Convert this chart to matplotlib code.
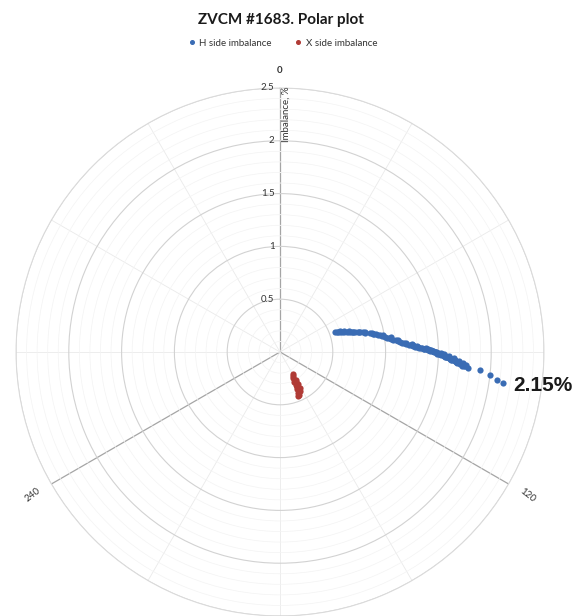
"""ZVCM #1683 polar plot of side imbalance."""

import numpy as np
import matplotlib
matplotlib.use('Agg')
import matplotlib.pyplot as plt
from matplotlib.lines import Line2D

# H side imbalance: angle (deg, clockwise from top) and magnitude (%)
h_theta = [69.7, 70.2, 70.5, 71.2, 71.8, 72.4, 73.0, 73.5, 74.0, 74.6, 75.0, 75.6,
           76.0, 76.6, 77.0, 77.9, 78.4, 78.9, 79.5, 80.0, 80.6, 81.2, 81.8, 82.3,
           82.9, 83.3, 83.8, 84.3, 84.8, 85.1, 85.6, 86.0, 86.4, 86.8, 87.1, 87.4,
           87.7, 88.0, 88.3, 88.5, 88.7, 88.9, 89.1, 89.3, 89.5, 89.6, 89.9, 90.1,
           90.4, 90.6, 90.9, 91.1, 91.4, 91.6, 91.8, 92.0, 92.3, 92.5, 92.7, 92.9,
           93.1, 93.3, 93.6, 93.9, 94.1,
           70.8, 72.0, 73.3, 74.5, 75.8, 77.2, 79.0, 80.8, 82.5, 84.0,
           85.9, 86.7, 87.5, 88.2, 88.9, 89.5, 90.2, 90.8, 91.5, 92.1, 92.8, 93.4,
           87.0, 87.9, 88.7, 89.4, 90.0, 90.7, 91.3, 92.0, 92.6, 93.2, 93.8, 94.4,
           88.4, 89.2, 90.0, 90.8, 91.6, 92.4, 93.1, 93.7,
           90.5, 91.4, 92.2, 93.0, 93.6, 94.2,
           89.8, 90.9, 91.9, 92.8, 93.5, 94.3, 94.8,
           95.1, 96.25, 97.4, 97.9]
h_r = [0.555, 0.570, 0.580, 0.600, 0.620, 0.640, 0.660, 0.680, 0.700, 0.720, 0.740, 0.760,
       0.780, 0.805, 0.830, 0.870, 0.885, 0.900, 0.920, 0.940, 0.960, 0.980, 1.000, 1.020,
       1.040, 1.060, 1.080, 1.100, 1.120, 1.140, 1.160, 1.180, 1.200, 1.220, 1.240, 1.260,
       1.280, 1.300, 1.320, 1.340, 1.360, 1.380, 1.400, 1.420, 1.435, 1.450, 1.465, 1.480,
       1.495, 1.510, 1.525, 1.540, 1.555, 1.570, 1.585, 1.600, 1.615, 1.630, 1.645, 1.660,
       1.675, 1.690, 1.710, 1.740, 1.770,
       0.600, 0.640, 0.680, 0.720, 0.770, 0.830, 0.910, 0.990, 1.060, 1.120,
       1.200, 1.250, 1.300, 1.350, 1.400, 1.450, 1.500, 1.550, 1.600, 1.650, 1.700, 1.740,
       1.260, 1.310, 1.360, 1.410, 1.460, 1.510, 1.560, 1.610, 1.660, 1.700, 1.730, 1.760,
       1.380, 1.430, 1.480, 1.530, 1.580, 1.630, 1.670, 1.710,
       1.520, 1.570, 1.620, 1.670, 1.710, 1.750,
       1.420, 1.490, 1.560, 1.620, 1.680, 1.730, 1.790,
       1.900, 2.000, 2.070, 2.135]

# X side imbalance
x_theta = [149.4, 151.0, 153.4, 150.3, 155.0, 152.0, 154.0, 150.5, 153.5, 155.5,
           152.8, 151.2, 156.0, 154.5, 157.5, 156.5, 153.0, 155.0]
x_r = [0.245, 0.262, 0.278, 0.300, 0.312, 0.325, 0.345, 0.350, 0.362, 0.385,
       0.395, 0.390, 0.425, 0.415, 0.455, 0.440, 0.410, 0.370]

r_major = [0.5, 1.0, 1.5, 2.0, 2.5]
r_labels = ['0.5', '1', '1.5', '2', '2.5']
angle_labels = {0: '0', 120: '120', 240: '240'}

H_COLOR = '#3A6CB4'
X_COLOR = '#B03A35'
TEXT = '#333333'

plt.rcParams['font.family'] = ['Lato', 'DejaVu Sans']

fig = plt.figure(figsize=(5.75, 6.16), dpi=100)
ax = fig.add_axes([16 / 575, 0.0, 528 / 575, 528 / 616], projection='polar')
ax.set_theta_zero_location('N')
ax.set_theta_direction(-1)
ax.set_ylim(0, 2.5)

# grid: spokes every 30 deg, rings every 0.5 with faint minor rings every 0.1
ax.set_xticks(np.deg2rad(np.arange(0, 360, 30)))
ax.set_xticklabels([])
ax.set_yticks(r_major)
ax.set_yticklabels([])
ax.set_yticks(np.arange(0.1, 2.5, 0.1), minor=True)
ax.tick_params(axis='both', length=0)
ax.grid(True, which='major', axis='y', color='#D2D2D2', linewidth=0.8)
ax.grid(True, which='minor', axis='y', color='#F3F3F3', linewidth=0.5)
ax.grid(True, which='major', axis='x', color='#EAEAEA', linewidth=0.6)
for i, gl in enumerate(ax.xaxis.get_gridlines()):
    if (i * 30) in angle_labels:
        gl.set_color('#A5A5A5')
        gl.set_linewidth(0.9)
ax.spines['polar'].set_color('#DADADA')
ax.spines['polar'].set_linewidth(0.7)

ax.scatter(np.deg2rad(h_theta), h_r, s=20, color=H_COLOR, linewidths=0, zorder=3)
ax.scatter(np.deg2rad(x_theta), x_r, s=20, color=X_COLOR, linewidths=0, zorder=3)

# radial labels left of the 0 spoke
for r, lab in zip(r_major, r_labels):
    ax.annotate(lab, xy=(0, r), xytext=(-4, 0), textcoords='offset points',
                ha='right', va='center', fontsize=7, color=TEXT)
ax.text(np.deg2rad(1.45), 2.25, 'Imbalance, %', rotation=90, ha='center', va='center',
        fontsize=7, color=TEXT)

# angle labels
ax.text(0, 2.67, '0', ha='center', va='center', fontsize=7, fontweight='bold',
        color=TEXT, clip_on=False)
ax.text(np.deg2rad(120), 2.71, '120', rotation=-38, ha='center', va='center',
        fontsize=7, color=TEXT, clip_on=False)
ax.text(np.deg2rad(240), 2.71, '240', rotation=38, ha='center', va='center',
        fontsize=7, color=TEXT, clip_on=False)

ax.text(np.deg2rad(98.1), 2.23, '2.15%', ha='left', va='center', fontsize=15,
        fontweight='bold', family='Liberation Sans', color='#1A1A1A', clip_on=False)

fig.text(281 / 575, 1 - 20 / 616, 'ZVCM #1683. Polar plot', ha='center', va='center',
         fontsize=11, fontweight='bold', color='#1A1A1A')
handles = [Line2D([], [], marker='o', linestyle='', markersize=2.6, color=H_COLOR),
           Line2D([], [], marker='o', linestyle='', markersize=2.6, color=X_COLOR)]
fig.legend(handles, ['H side imbalance', 'X side imbalance'], loc='center',
           bbox_to_anchor=(282 / 575, 1 - 43 / 616), ncol=2, frameon=False,
           fontsize=7, handletextpad=0.3, columnspacing=2.2, handlelength=1.0,
           labelcolor=TEXT)

fig.savefig('out.png', dpi=100)
